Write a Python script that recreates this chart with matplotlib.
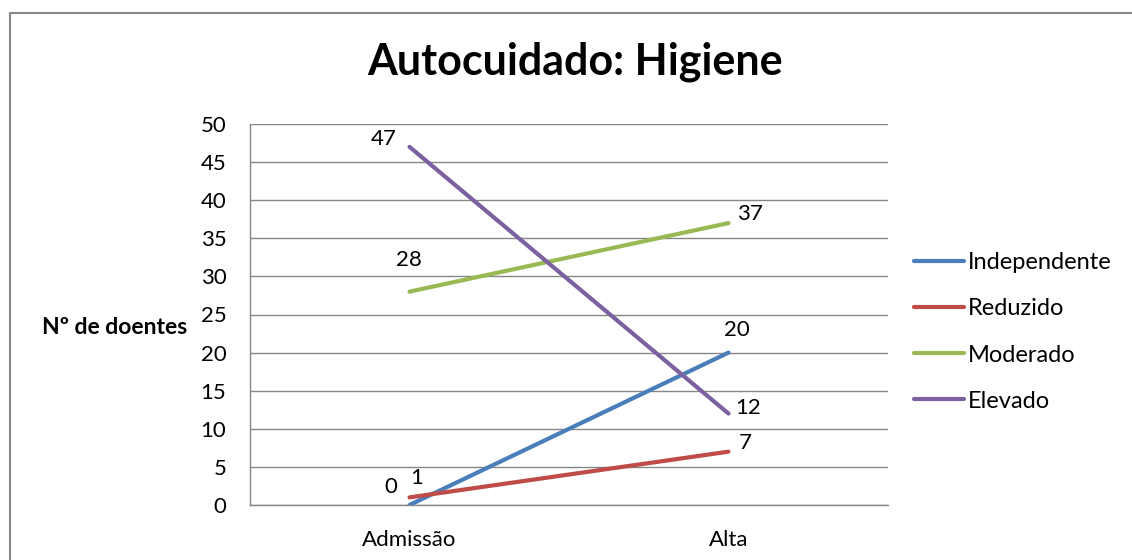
import matplotlib
matplotlib.use("Agg")
import matplotlib.pyplot as plt
from matplotlib.lines import Line2D

plt.rcParams['font.family'] = ['Lato', 'DejaVu Sans']

categories = ["Admissão", "Alta"]
series_names = ["Independente", "Reduzido", "Moderado", "Elevado"]
independente = [0, 20]
reduzido = [1, 7]
moderado = [28, 37]
elevado = [47, 12]
values = [independente, reduzido, moderado, elevado]
colors = ["#4A7EBB", "#BE4B48", "#98B954", "#7D60A0"]
yticks = [0, 5, 10, 15, 20, 25, 30, 35, 40, 45, 50]

# label offsets (points) per series, per category
offsets = [
    [(-13.7, 13), (5.8, 16.3)],
    [(5, 14), (12.2, 6.3)],
    [(-0.7, 22.7), (15.8, 6.5)],
    [(-18.7, 5.8), (14.4, 4)],
]

W, H = 1132, 560
fig = plt.figure(figsize=(W / 100, H / 100), dpi=100)
ax = fig.add_axes([250 / W, 1 - 505 / H, (888 - 250) / W, (505 - 124) / H])

x = list(range(len(categories)))
for name, vals, c, offs in zip(series_names, values, colors, offsets):
    ax.plot(x, vals, color=c, lw=3, label=name, solid_capstyle='round', zorder=3)
    for xi, v, o in zip(x, vals, offs):
        ax.annotate(str(v), (xi, v), xytext=o, textcoords='offset points',
                    ha='center', va='center', fontsize=16, color='#000000', zorder=4)

ax.set_xlim(-0.5, 1.5)
ax.set_ylim(0, 50)
ax.set_yticks(yticks)
ax.set_xticks(x)
ax.set_xticklabels(categories)
ax.tick_params(axis='both', length=0, labelsize=16, colors='#000000')
ax.tick_params(axis='y', pad=17)
ax.tick_params(axis='x', pad=18)
ax.grid(axis='y', color='#868686', lw=1)
ax.set_axisbelow(True)
for s in ['top', 'right']:
    ax.spines[s].set_visible(False)
for s in ['left', 'bottom']:
    ax.spines[s].set_color('#868686')
    ax.spines[s].set_linewidth(1)

fig.text(575 / W, 1 - 62 / H, "Autocuidado: Higiene", ha='center', va='center',
         fontsize=31, fontweight='bold')
fig.text(42 / W, 1 - 328 / H, "Nº de doentes", ha='left', va='center',
         fontsize=16.5, fontweight='bold')

ax.legend(loc='center left', bbox_to_anchor=(914 / W, 1 - 332 / H),
          bbox_transform=fig.transFigure, frameon=False, fontsize=17,
          handlelength=2.1, handletextpad=0.2, labelspacing=1.06,
          borderpad=0, borderaxespad=0)

bx = 10 / W
by = 1 - 13 / H
fig.add_artist(Line2D([bx, bx, 1.0], [0, by, by], transform=fig.transFigure,
                      color='#868686', lw=1.5))

fig.savefig("out.png", dpi=100)
